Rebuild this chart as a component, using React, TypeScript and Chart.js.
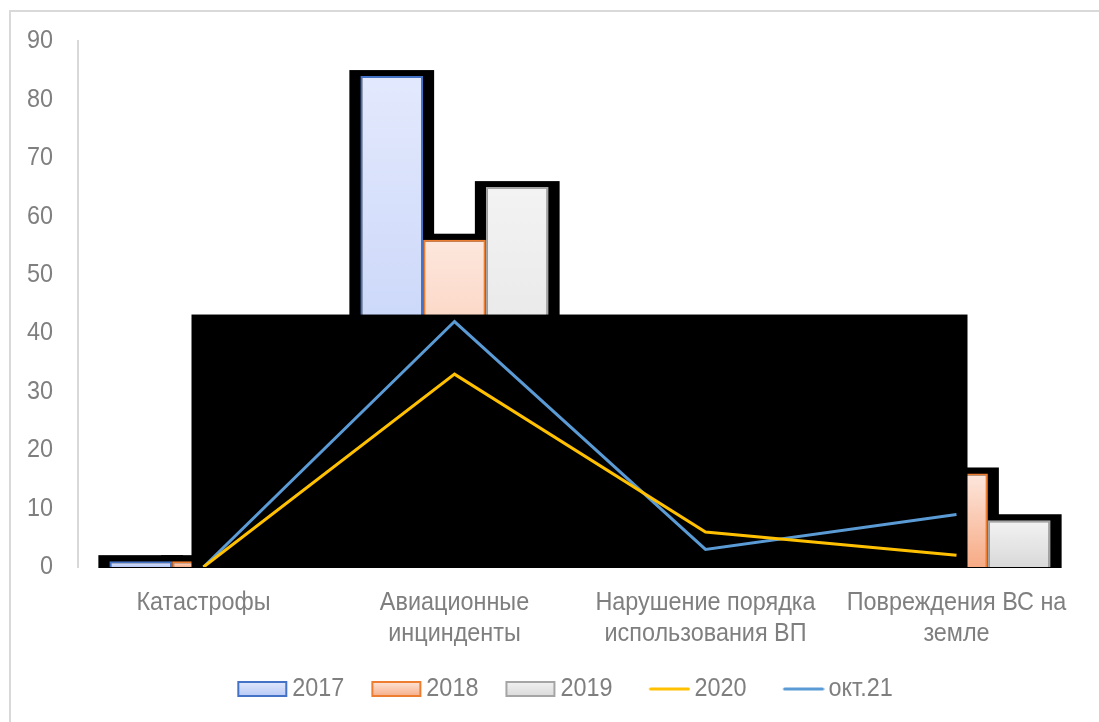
import React, { useEffect, useRef } from "react";
import { Chart, registerables } from "chart.js";

Chart.register(...registerables);

// Incident categories (multi-line axis labels)
const categories: string[][] = [
  ["Катастрофы"],
  ["Авиационные", "инцинденты"],
  ["Нарушение порядка", "использования ВП"],
  ["Повреждения ВС на", "земле"],
];

// Yearly counts per category
const values2017 = [1, 84, 4, 6];
const values2018 = [1, 56, 3, 16];
const values2019 = [0, 65, 2, 8];
const values2020 = [0, 33, 6, 2];
const valuesOct21 = [0, 42, 3, 9];

const seriesLabels = ["2017", "2018", "2019", "2020", "окт.21"];
const yTicks = { min: 0, max: 90, step: 10 };

const FONT = "'Liberation Sans', Arial, sans-serif";
const FONT_SIZE = 26;
const TEXT = "#7f7f7f";
// Horizontal squeeze applied to all canvas text (narrow-face look)
const TEXT_SQUEEZE = 0.9;
// Legend row sits slightly right of the canvas centre
const LEGEND_SHIFT = 20;

// Light vertical gradients for the bar series: [top, bottom, border]
const barPalette = [
  ["#e3e9fd", "#b6c8f6", "#4472c4"],
  ["#fde7dd", "#f7ab85", "#ed7d31"],
  ["#f3f3f3", "#d9d9d9", "#a5a5a5"],
];
const lineColors = ["#ffc000", "#5b9bd5"];

function barFill(idx: number) {
  return (c: any) => {
    const [top, bottom] = barPalette[idx];
    const chart = c.chart;
    if (c.type !== "data" || !chart.chartArea || !chart.scales.y) return top;
    const y = chart.scales.y;
    const yTop = y.getPixelForValue(c.raw);
    const yBase = y.getPixelForValue(0);
    if (yBase - yTop < 1) return top;
    const g = chart.ctx.createLinearGradient(0, yTop, 0, yBase);
    g.addColorStop(0, top);
    g.addColorStop(1, bottom);
    return g;
  };
}

// Legend markers: gradient boxes for bars, short strokes for lines
function barMarker(idx: number) {
  const cv = document.createElement("canvas");
  cv.width = 68;
  cv.height = 18;
  const g2 = cv.getContext("2d")!;
  const [top, bottom, border] = barPalette[idx];
  const gr = g2.createLinearGradient(0, 1, 0, 17);
  gr.addColorStop(0, top);
  gr.addColorStop(1, bottom);
  g2.fillStyle = gr;
  g2.fillRect(17, 1, 50, 16);
  g2.strokeStyle = border;
  g2.lineWidth = 2;
  g2.strokeRect(18, 2, 48, 14);
  return cv;
}

function lineMarker(color: string) {
  const cv = document.createElement("canvas");
  cv.width = 68;
  cv.height = 18;
  const g2 = cv.getContext("2d")!;
  g2.strokeStyle = color;
  g2.lineWidth = 3;
  g2.lineCap = "round";
  g2.beginPath();
  g2.moveTo(28, 9);
  g2.lineTo(66, 9);
  g2.stroke();
  return cv;
}

function squeezeText(ctx: any) {
  const fill = ctx.fillText.bind(ctx);
  const measure = ctx.measureText.bind(ctx);
  ctx.fillText = function (text: string, x: number, y: number, maxWidth?: number) {
    this.save();
    this.translate(x, y);
    this.scale(TEXT_SQUEEZE, 1);
    if (maxWidth === undefined) fill(text, 0, 0);
    else fill(text, 0, 0, maxWidth / TEXT_SQUEEZE);
    this.restore();
  };
  ctx.measureText = function (text: string) {
    const m = measure(text);
    return {
      width: m.width * TEXT_SQUEEZE,
      actualBoundingBoxAscent: m.actualBoundingBoxAscent,
      actualBoundingBoxDescent: m.actualBoundingBoxDescent,
      actualBoundingBoxLeft: m.actualBoundingBoxLeft * TEXT_SQUEEZE,
      actualBoundingBoxRight: m.actualBoundingBoxRight * TEXT_SQUEEZE,
    };
  };
}

// Black halo behind each bar, and a dark panel behind the line series
const shadowPlugin = {
  id: "shadows",
  afterLayout(chart: any) {
    const lg = chart.legend;
    if (lg) {
      lg.left += LEGEND_SHIFT;
      lg.right += LEGEND_SHIFT;
    }
  },
  beforeDatasetsDraw(chart: any) {
    const ctx = chart.ctx;
    ctx.save();
    ctx.fillStyle = "#000";
    for (let i = 0; i < 3; i++) {
      const meta = chart.getDatasetMeta(i);
      meta.data.forEach((el: any) => {
        const w = el.width;
        ctx.fillRect(el.x - w / 2 - 11, el.y - 6, w + 22, el.base - el.y + 7);
      });
    }
    ctx.restore();
  },
  afterDatasetDraw(chart: any, args: any) {
    if (args.index !== 0) return;
    const x = chart.scales.x;
    const y = chart.scales.y;
    const peak = Math.max(...values2020, ...valuesOct21);
    const left = x.getPixelForValue(0) - 12;
    const right = x.getPixelForValue(categories.length - 1) + 11;
    const top = y.getPixelForValue(peak) - 7;
    const bottom = y.getPixelForValue(0) + 1;
    const ctx = chart.ctx;
    ctx.save();
    ctx.fillStyle = "#000";
    ctx.fillRect(left, top, right - left, bottom - top);
    ctx.restore();
  },
};

export default function App() {
  const ref = useRef<HTMLCanvasElement | null>(null);

  useEffect(() => {
    if (!ref.current) return;
    squeezeText(ref.current.getContext("2d"));

    const markers = [barMarker(0), barMarker(1), barMarker(2), lineMarker(lineColors[0]), lineMarker(lineColors[1])];

    const barSets = [values2017, values2018, values2019].map((data, i) => ({
      type: "bar" as const,
      label: seriesLabels[i],
      data,
      order: 1,
      backgroundColor: barFill(i),
      borderColor: barPalette[i][2],
      borderWidth: 2,
      barPercentage: 1,
      categoryPercentage: 0.75,
    }));
    const lineSets = [values2020, valuesOct21].map((data, i) => ({
      type: "line" as const,
      label: seriesLabels[3 + i],
      data,
      order: 0,
      borderColor: lineColors[i],
      backgroundColor: lineColors[i],
      borderWidth: 3,
      pointRadius: 0,
      tension: 0,
      fill: false,
    }));

    const chart = new Chart(ref.current, {
      type: "bar",
      data: { labels: categories, datasets: [...barSets, ...lineSets] as any },
      options: {
        responsive: false,
        animation: false,
        events: [],
        layout: { padding: { left: 0, top: 41, right: 17, bottom: 10 } },
        plugins: {
          tooltip: { enabled: false },
          legend: {
            position: "bottom",
            labels: {
              usePointStyle: true,
              pointStyleWidth: 50,
              boxHeight: 16,
              padding: 19,
              color: TEXT,
              font: { family: FONT, size: FONT_SIZE },
              generateLabels: (ch: any) =>
                ch.data.datasets.map((ds: any, i: number) => ({
                  text: ds.label,
                  fillStyle: "rgba(0,0,0,0)",
                  strokeStyle: "rgba(0,0,0,0)",
                  lineWidth: 0,
                  pointStyle: markers[i],
                  fontColor: TEXT,
                  hidden: false,
                  datasetIndex: i,
                })),
            },
          },
        },
        scales: {
          x: {
            offset: true,
            grid: { display: false },
            border: { display: false },
            ticks: {
              color: TEXT,
              font: { family: FONT, size: FONT_SIZE },
              padding: 12,
              maxRotation: 0,
              autoSkip: false,
            },
            afterFit: (s: any) => {
              s.height = 90;
            },
          },
          y: {
            min: yTicks.min,
            max: yTicks.max,
            grid: { display: false, drawTicks: false },
            border: { display: true, color: "#d9d9d9", width: 2 },
            ticks: {
              stepSize: yTicks.step,
              color: TEXT,
              padding: 25,
              font: { family: FONT, size: FONT_SIZE },
            },
            afterFit: (s: any) => {
              s.width = 78;
            },
          },
        },
      },
      plugins: [shadowPlugin],
    });
    return () => chart.destroy();
  }, []);

  return (
    <div style={{ position: "absolute", left: 0, top: 0, width: 1099, height: 722, background: "#fff", overflow: "hidden" }}>
      <div
        style={{
          position: "absolute",
          left: 9,
          top: 10,
          width: 1200,
          height: 800,
          borderLeft: "2px solid #d9d9d9",
          borderTop: "2px solid #d9d9d9",
        }}
      />
      <canvas ref={ref} width={1099} height={722} style={{ position: "absolute", left: 0, top: 0 }} />
    </div>
  );
}
